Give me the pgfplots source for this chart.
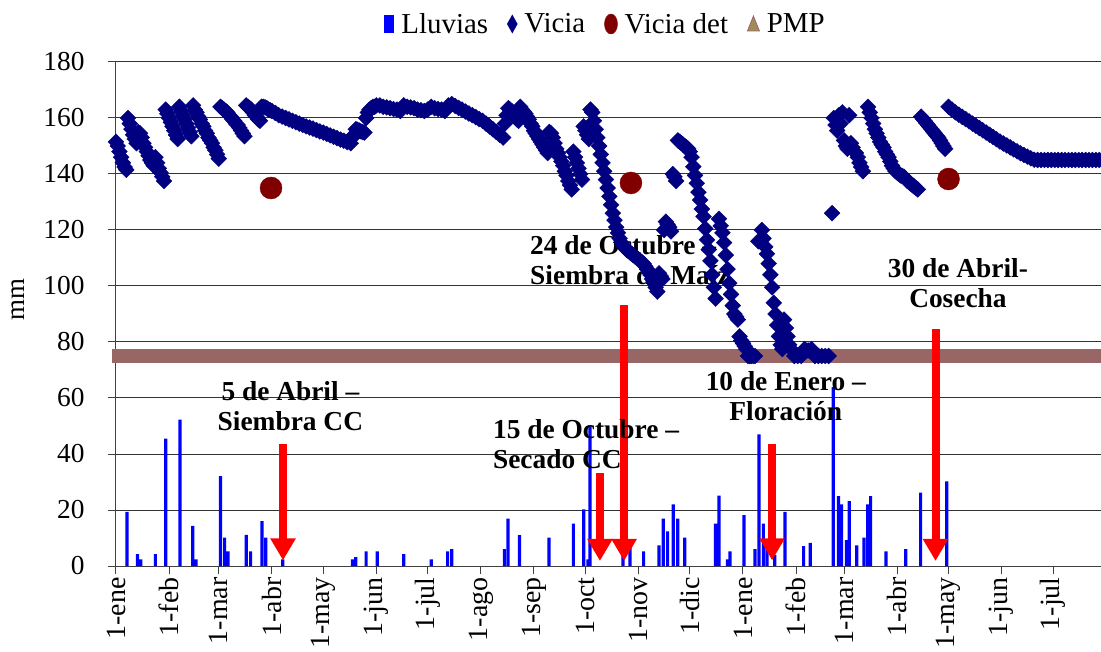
\documentclass[border=0pt]{standalone}
\usepackage{fontspec}
\setmainfont{Liberation Serif}
\usepackage{pgfplots}
\pgfplotsset{compat=1.18}
\usetikzlibrary{arrows.meta}
\definecolor{vicia}{RGB}{0,0,128}
\definecolor{viciadet}{RGB}{128,0,0}
\definecolor{pmp}{RGB}{153,102,102}
\definecolor{pmpleg}{RGB}{160,140,90}
\begin{document}
\begin{tikzpicture}
\begin{axis}[
  at={(0,0)}, anchor=south west,
  scale only axis, width=985bp, height=504bp,
  xmin=0, xmax=575, ymin=0, ymax=180,
  axis x line*=bottom, axis y line*=left,
  axis line style={black!75, line width=1bp},
  ytick={0,20,...,180},
  ymajorgrids, grid style={black!80, line width=1bp},
  xtick={0,31,60,91,121,152,182,213,244,274,305,335,366,397,425,456,486,517,547},
  xticklabels={1-ene,1-feb,1-mar,1-abr,1-may,1-jun,1-jul,1-ago,1-sep,1-oct,1-nov,1-dic,1-ene,1-feb,1-mar,1-abr,1-may,1-jun,1-jul},
  xticklabel style={rotate=90, anchor=east, font=\fontsize{28}{30}\selectfont},
  yticklabel style={font=\fontsize{27.5}{30}\selectfont, xshift=-20bp},
  /pgf/number format/assume math mode=true,
  tick align=outside, major tick length=8bp,
  tick style={black!75, line width=1bp},
  clip=false,
  legend columns=4,
  legend style={draw=none, fill=none, font=\fontsize{29}{32}\selectfont,
    at={(0.497,1)}, anchor=center, yshift=38bp,
    /tikz/every odd column/.append style={column sep=5bp},
    /tikz/every even column/.append style={column sep=17bp}},
]
\addplot[ybar, bar width=3.2bp, fill=blue, draw=none,
  legend image code/.code={\fill[blue] (0bp,-9bp) rectangle (10bp,9bp);}]
coordinates {(6.4,19.3)(12.5,4.2)(14.4,2.4)(23,4.2)(29,45.5)(37.4,52.3)(44.8,14.3)(46.7,2.4)(61,32.1)(63.4,10.1)(65.4,5.2)(76,11.1)(78.6,5.2)(85.2,16)(87.4,10.1)(97.3,2.4)(138,2.4)(140,3.2)(146,5.2)(152.5,5.2)(168,4.2)(184,2.4)(193.6,5.2)(196,6)(226.7,6)(228.8,16.9)(235.6,11)(252.8,10.1)(267,15.1)(273,20.2)(275.5,2.4)(276.7,50.2)(296,6)(300,7.4)(308,5.2)(317,7.4)(319.5,16.9)(322,12.4)(325.3,22)(327.9,16.9)(332,10.1)(350,15.1)(352,25.1)(357,2.4)(358.4,5.2)(366.6,18.2)(373,6)(375.4,47)(377.9,15.1)(380,8)(384.5,4)(390.5,19.3)(401.4,7.1)(405.3,8.3)(418.7,63.9)(421.8,25)(423.5,22)(426.4,9.2)(428,23.2)(432.4,7.4)(436.6,10.1)(438.8,22)(440.5,25)(449.5,5.2)(461,6)(469.7,26.2)(485,30.2)};
\addlegendentry{Lluvias}
\addplot[only marks, mark=square*, mark size=5.6bp, mark options={rotate=45, fill=vicia, draw=vicia},
  legend image code/.code={\fill[vicia] (5bp,-9bp) -- (10bp,0bp) -- (5bp,9bp) -- (0bp,0bp) -- cycle;}]
coordinates {
(0,151.5)(1,150)(2,148)(3,146)(4,144)(5,142.5)(6,141.5)
(7,160)(8,158)(9,156)(10,154)(11,152.5)(12,151)(13,155)(14,154.5)(15,153)(16,151)(17,149.5)(18,148)(19,146.5)(20,145)(21,144)(22,143)(23,146)(24,144)(25,142)(26,140.5)(27,139)(28,137.5)
(29,163)(30,161.5)(31,160)(32,158.5)(33,157)(34,155.5)(35,154)(36,152.5)
(37,164)(38,162.5)(39,161)(40,159.5)(41,158)(42,156.5)(43,155)(44,153.5)
(45,164.5)(46,163)(47,162)(48,160.5)(49,159.5)(50,158)(51,157)(52,155.5)(53,154.5)(54,153)(55,152)(56,151)(57,149.5)(58,148.5)(59,147)(60,145.5)
(61,164)(62,163.5)(63,163)(64,162.5)(65,162)(66,161)(67,160.5)(68,159.5)(69,159)(70,158)(71,157.5)(72,156.5)(73,155.5)(74,154.5)(75,153.5)
(76,164.5)(77,164)(78,163.5)(79,163)(80,162)(81,161)(82,160.5)(83,159.5)(84,159)
(85,164)(86,164)(87,163.8)(88,163.5)(89,163)(90,162.8)(91,162.5)(93,161.8)(95,161)(97,160.5)(99,160)(101,159.5)(103,159)(105,158.5)(107,158)(109,157.5)(111,157)(113,156.6)(115,156.2)(117,155.7)(119,155.2)(121,154.8)(123,154.3)(125,153.8)(127,153.3)(129,152.8)(131,152.3)(133,151.9)(135,151.4)(137,151)
(138,153)(139,154)(140,156)(141,155.8)(142,155.5)(143,155.2)(144,155)(145,154.8)(146,160)(147,162)(148,163)(149,163.5)(150,164)(151,164)(152,164.5)
(154,164.5)(156,164)(158,163.8)(160,163.5)(162,163.2)(164,163)(166,162.5)(168,164.5)(170,164)(172,163.8)(174,163.5)(176,163)(178,162.8)(180,162.5)(182,163)(184,164)(186,163.5)(188,163.2)(190,163)(192,162.5)(194,164.5)(196,165)(198,164.3)(200,163.6)
(202,163)(204,162.3)(206,161.6)(208,161)(210,160.3)(212,159.6)(214,159)(216,158)(218,157)(220,156)(222,155)(224,154)(226,153)
(227,158)(228,161)(229,163.5)(230,163)(231,162.5)(232,161.5)(233,160.5)(234,159.5)(235,159)
(236,164)(237,163)(238,162.3)(239,161.5)(240,160.5)(241,159.5)(242,158)(243,157)(244,155.5)(245,154.5)(246,153.5)(247,152.5)(248,151.5)(249,150.5)(250,149.5)(251,148.5)(252,147.5)(253,155)(254,154.5)(255,153)(256,151)(257,149)(258,147.5)(259,146)(260,144.5)(261,143)(262,141)(263,139.5)(264,137.5)(265,136)(266,134.5)
(267,148)(268,146)(269,144)(270,142)(271,140)(272,138)
(273,157)(274,155.5)(275,154)(276,152.5)(277,163)(278,162)
(279,159)(280,156)(281,153)(282,150)(283,147)(284,144)(285,141)(286,138)(287,135)(288,132)(289,129)(290,126)(291,123.5)(292,121)(293,119)(294,117)(295,115.5)(296,114.5)(297,113.7)(298,113)(299,112.5)(300,112)(301,111.5)(302,111)(303,110.5)(304,110)(305,109.5)(306,109)(307,108.5)(308,108)(309,107)(310,106)(311,105)(312,104)(313,102.5)(314,101)(315,99.5)(316,98)
(317,104.5)(318,103.5)(319,102.5)(320,120)(321,123)(322,122)(323,121)(324,119.5)(325,140)(326,139)(327,137.5)(328,152)(329,151.5)(330,151)(331,150.5)(332,150)(333,149.5)(334,149)(335,148)(336,146)
(337,142.6)(338,139.5)(339,136.7)(340,133.5)(341,130.7)(342,127.5)(343,124.8)(344,120.5)(345,116.5)(346,113)(347,109)(348,104)(349,99.5)(350,95.5)
(352,124)(353,121.5)(354,119)(355,115.5)(356,111)(357,106)(358,101)(359,97)(360,93)(361,90)(362,89)(363,88)(364,82)(365,80.5)(366,79.5)(367,78.5)(368,77.5)(369,75)(370,75)(371,75)(372,75)(373,75)
(375,116)(376,116)(377,120)(378,117)(379,114)(380,111.5)(381,108)(382,104)(383,99.5)(384,94)(385,90)(386,86)(387,82)(388,79)(389,77.5)(390,88)(391,85)(392,82)(393,79)(394,77.5)
(396,75)(398,75)(400,75)(402,77.5)(404,77)(406,77.5)(408,75)(410,75)(412,75)(414,75)(416,75)
(418,126)(419,160)(420,157.5)(421,155.5)(422,161)(423,158)(424,162)(425,152)(426,150)(427,149)(428,161)(429,151)(430,149.5)(431,148)(432,147.5)(433,146)(434,144)(435,142.5)(436,141)
(439,164)(440,162)(441,160)(442,158)(443,156)(444,154.5)(445,153)(446,151.5)(447,150.5)(448,149.5)(449,148)(450,147)(451,146)(452,144.5)(453,143)(454,142)(455,141)(456,140.5)(457,140)(458,139.5)(459,139.3)(460,139)(461,138.3)(462,137.5)(463,137)(464,136.5)(465,136)(466,135.5)(467,135)(468,134.5)
(470,160.5)(471,159.7)(472,159)(473,158.2)(474,157.5)(475,156.7)(476,156)(477,155.2)(478,154.5)(479,153.7)(480,153)(481,152)(482,151)(483,150)(484,149)
(486,164)(488,163)(490,162)(492,161.2)(494,160.4)(496,159.6)(498,158.8)(500,158)(502,157.2)(504,156.4)(506,155.6)(508,154.8)(510,154)(512,153.2)(514,152.4)(516,151.6)(518,150.9)(520,150.2)(522,149.5)(524,148.8)(526,148.1)(528,147.4)(530,146.8)(532,146.2)(534,145.6)(536,145.1)(538,145)(540,145)(542,145)(544,145)(546,145)(548,145)(550,145)(552,145)(554,145)(556,145)(558,145)(560,145)(562,145)(564,145)(566,145)(568,145)(570,145)(572,145)(574,145)
};
\addlegendentry{Vicia}
\addplot[only marks, mark=*, mark size=11bp, mark options={fill=viciadet, draw=viciadet},
  legend image code/.code={\fill[viciadet] (6.5bp,0bp) ellipse (6.5bp and 10bp);}]
coordinates {(90.5,135)(300.6,136.8)(486,138.2)};
\addlegendentry{Vicia det}
\addplot[pmp, line width=14bp,
  legend image code/.code={\filldraw[fill=pmpleg, draw=pmp, line width=0.8bp] (0bp,-7bp) -- (12bp,-7bp) -- (6bp,8bp) -- cycle;}]
coordinates {(-2.5,75)(575,75)};
\addlegendentry{PMP}
\tikzset{ann/.style={font=\bfseries\fontsize{27.5}{30}\selectfont, inner sep=0pt},
  arr/.style={red, line width=8bp, -{Triangle[width=24bp, length=22bp]}}}
\draw[arr] (axis cs:97.5,43.6) -- (axis cs:97.5,2);
\draw[arr] (axis cs:282.5,33.1) -- (axis cs:282.5,1.8);
\draw[arr] (axis cs:296.6,93.2) -- (axis cs:296.6,1.8);
\draw[arr] (axis cs:383,43.6) -- (axis cs:383,2);
\draw[arr] (axis cs:478.4,84.6) -- (axis cs:478.4,1.8);
\node[ann, align=center] at (axis cs:101.8,57.1) {5 de Abril –\\Siembra CC};
\node[ann, align=left, anchor=west] at (axis cs:220,43.6) {15 de Octubre –\\Secado CC};
\node[ann, align=left, anchor=west] at (axis cs:241.7,109.3) {24 de Octubre –\\Siembra de Maíz};
\node[ann, align=center] at (axis cs:391,60.7) {10 de Enero –\\Floración};
\node[ann, align=center] at (axis cs:491.5,101) {30 de Abril-\\Cosecha};
\end{axis}
\node[rotate=90, font=\fontsize{27}{30}\selectfont] at (-98bp,266bp) {mm};
\pgfresetboundingbox
\path[use as bounding box] (-116bp,-86bp) rectangle (985bp,566bp);
\end{tikzpicture}
\end{document}
